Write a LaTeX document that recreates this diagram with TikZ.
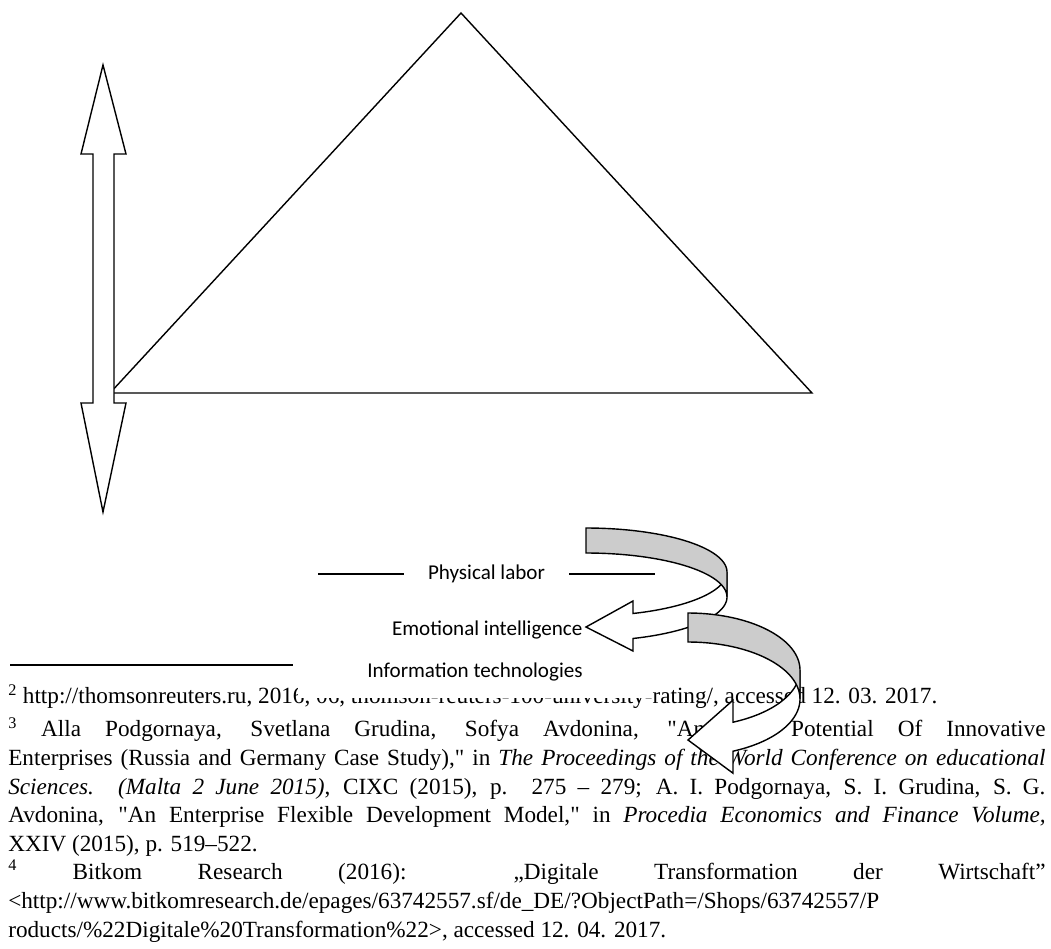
\documentclass[tikz,border=0pt]{standalone}
\usepackage{fontspec}
\setmainfont{Liberation Serif}[Ligatures=TeXOff]
\newfontfamily\calibrifont{Carlito}

\begin{document}
\begin{tikzpicture}[x=0.025cm, y=-0.025cm,
        shape line/.style={line width=1pt, line join=miter},
        rule line/.style={line width=0.8pt},
        label text/.style={font=\calibrifont\fontsize{15}{18}\selectfont, inner sep=1pt},
        footnote text/.style={font=\fontsize{16.5}{20.34}\selectfont, text width=25.925cm,
            align=justify, inner sep=0pt, anchor=north west}]
        \useasboundingbox (0,0) rectangle (1051,948);

        % triangle
        \coordinate (apex) at (461,13);
        \coordinate (baseL) at (110,393);
        \coordinate (baseR) at (812,393);
        \draw[shape line] (baseL) -- (apex) -- (baseR) -- cycle;

        % up-down arrow
        \filldraw[shape line, fill=white] (103,65) -- (126,154) -- (114,154) -- (114,403) -- (126,403)
            -- (103,512) -- (81,403) -- (93,403) -- (93,154) -- (81,154) -- cycle;

        % footnotes
        \draw[rule line] (10,665) -- (293,665);
        \node[footnote text] (fn2) at (8,684) {\textsuperscript{2} http://thomsonreuters.ru, 2016, 06, thomson-reuters-100-university-rating/, accessed 12. 03. 2017.};
        \node[footnote text] (fn3) at (8,717) {\textsuperscript{3} Alla Podgornaya, Svetlana Grudina, Sofya Avdonina, "Anticrisis Potential Of Innovative\linebreak
            Enterprises (Russia and Germany Case Study)," in \textit{The Proceedings of the World Conference on educational}\linebreak
            \textit{Sciences. (Malta 2 June 2015)}, CIXC (2015), p. 275 – 279; A. I. Podgornaya, S. I. Grudina, S. G.\linebreak
            Avdonina, "An Enterprise Flexible Development Model," in \textit{Procedia Economics and Finance Volume,}\linebreak
            XXIV (2015), p. 519–522.};
        \node[footnote text] (fn4) at (8,860) {\textsuperscript{4} Bitkom Research (2016): „Digitale Transformation der Wirtschaft”\linebreak
            <http://www.bitkomresearch.de/epages/63742557.sf/de\_DE/?ObjectPath=/Shops/63742557/P\\
            roducts/\%22Digitale\%20Transformation\%22>, accessed 12. 04. 2017.};

        % labels
        \coordinate (physL) at (318,574);
        \coordinate (physR) at (655,574);
        \draw[rule line] (physL) -- node[label text, fill=white, minimum width=4.125cm] (phys) {Physical labor} (physR);
        \node[label text, anchor=east] (emot) at (584,630) {Emotional intelligence};
        \node[label text, fill=white, minimum width=8.85cm, minimum height=1.3cm] (info) at (475,672) {Information technologies};

        % curved arrows
        \foreach \xo/\rx/\ry/\cy/\th/\xa/\hw/\tip in {586/141/44/572/25/633/25/627, 688/112/57/670/29/733/36.5/740}
        {
            \pgfmathsetmacro{\ta}{acos((\xa-\xo)/\rx)}
            \pgfmathsetmacro{\ym}{\cy+\ry*sin(\ta)+\th/2}
            \filldraw[shape line, fill=white] ({\xo+\rx},\cy)
                -- plot[variable=\t, domain=0:\ta, samples=40] ({\xo+\rx*cos(\t)},{\cy+\ry*sin(\t)})
                -- (\xa,{\ym-\hw}) -- (\xo,\tip) -- (\xa,{\ym+\hw})
                -- plot[variable=\t, domain=\ta:0, samples=40] ({\xo+\rx*cos(\t)},{\cy+\th+\ry*sin(\t)})
                -- cycle;
            \filldraw[shape line, fill=black!20] (\xo,{\cy-\ry})
                -- plot[variable=\t, domain=-90:0, samples=40] ({\xo+\rx*cos(\t)},{\cy+\ry*sin(\t)})
                -- ({\xo+\rx},{\cy+\th})
                -- plot[variable=\t, domain=0:-90, samples=40] ({\xo+\rx*cos(\t)},{\cy+\th+\ry*sin(\t)})
                -- cycle;
        }
    \end{tikzpicture}
\end{document}
